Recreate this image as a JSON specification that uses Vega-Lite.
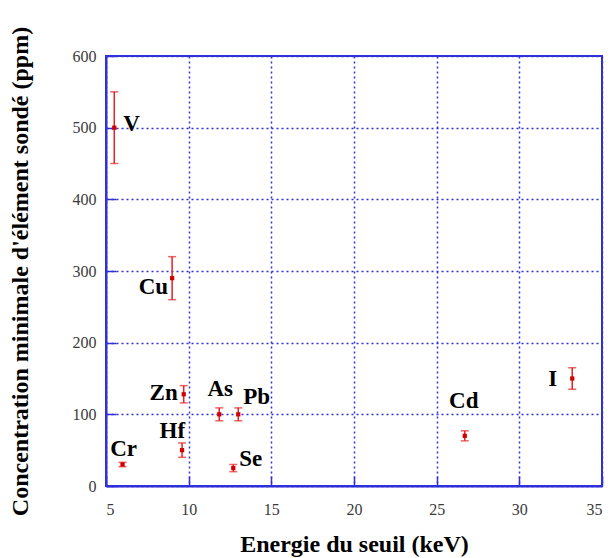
{
  "$schema": "https://vega.github.io/schema/vega-lite/v6.json",
  "width": 496,
  "height": 430,
  "autosize": "none",
  "padding": {"left": 106, "top": 56, "right": 8, "bottom": 72},
  "background": "white",
  "data": {
    "values": [
      {"element": "V", "energie": 5.5, "conc": 500, "lo": 450, "hi": 550},
      {"element": "Cr", "energie": 6.0, "conc": 30, "lo": 27, "hi": 33},
      {"element": "Cu", "energie": 9.0, "conc": 290, "lo": 260, "hi": 320},
      {"element": "Hf", "energie": 9.6, "conc": 50, "lo": 40, "hi": 60},
      {"element": "Zn", "energie": 9.7, "conc": 128, "lo": 116, "hi": 140},
      {"element": "As", "energie": 11.85, "conc": 100, "lo": 91, "hi": 109},
      {"element": "Se", "energie": 12.7, "conc": 25, "lo": 20, "hi": 30},
      {"element": "Pb", "energie": 13.0, "conc": 100, "lo": 91, "hi": 109},
      {"element": "Cd", "energie": 26.7, "conc": 70, "lo": 63, "hi": 77},
      {"element": "I", "energie": 33.2, "conc": 150, "lo": 135, "hi": 165}
    ]
  },
  "config": {
    "view": {"stroke": "#3030d8", "strokeWidth": 2},
    "axis": {
      "domainColor": "#3030d8",
      "domainWidth": 2,
      "tickColor": "#3030d8",
      "tickWidth": 1.5,
      "tickSize": -10,
      "gridColor": "#3030d8",
      "gridDash": [2, 3],
      "gridWidth": 1.5,
      "gridOpacity": 1,
      "labelFont": "Liberation Serif",
      "labelFontSize": 16,
      "labelColor": "#3a3a3a",
      "titleFont": "Liberation Serif",
      "titleFontWeight": "bold",
      "titleFontSize": 24,
      "titleColor": "black"
    },
    "text": {"font": "Liberation Serif", "fontWeight": "bold", "fontSize": 23, "color": "black", "baseline": "alphabetic"}
  },
  "encoding": {
    "x": {
      "field": "energie",
      "type": "quantitative",
      "scale": {"domain": [5, 35], "nice": false, "zero": false},
      "axis": {"values": [5, 10, 15, 20, 25, 30, 35], "labelFont": "Liberation Serif", "labelPadding": 25, "title": "Energie du seuil (keV)", "titlePadding": 15}
    },
    "y": {
      "field": "conc",
      "type": "quantitative",
      "scale": {"domain": [0, 600], "nice": false},
      "axis": {"values": [0, 100, 200, 300, 400, 500, 600], "labelFont": "Liberation Serif", "labelPadding": 20, "title": "Concentration minimale d'élément sondé (ppm)", "titlePadding": 40}
    }
  },
  "layer": [
    {
      "mark": {"type": "rule", "color": "#e42222", "strokeWidth": 1.5},
      "encoding": {"y": {"field": "lo", "type": "quantitative"}, "y2": {"field": "hi"}}
    },
    {
      "mark": {"type": "tick", "orient": "horizontal", "color": "#e42222", "size": 8, "thickness": 1.5},
      "encoding": {"y": {"field": "lo", "type": "quantitative"}}
    },
    {
      "mark": {"type": "tick", "orient": "horizontal", "color": "#e42222", "size": 8, "thickness": 1.5},
      "encoding": {"y": {"field": "hi", "type": "quantitative"}}
    },
    {
      "mark": {"type": "square", "color": "#d00000", "size": 18, "filled": true, "opacity": 1}
    },
    {"transform": [{"filter": "datum.element == 'V'"}], "mark": {"type": "text", "align": "left", "dx": 9, "dy": 3}, "encoding": {"text": {"field": "element"}}},
    {"transform": [{"filter": "datum.element == 'Cu'"}], "mark": {"type": "text", "align": "right", "dx": -4, "dy": 16}, "encoding": {"text": {"field": "element"}}},
    {"transform": [{"filter": "datum.element == 'Zn'"}], "mark": {"type": "text", "align": "right", "dx": -6, "dy": 6}, "encoding": {"text": {"field": "element"}}},
    {"transform": [{"filter": "datum.element == 'As'"}], "mark": {"type": "text", "align": "center", "dx": 1, "dy": -18}, "encoding": {"text": {"field": "element"}}},
    {"transform": [{"filter": "datum.element == 'Pb'"}], "mark": {"type": "text", "align": "left", "dx": 5, "dy": -10}, "encoding": {"text": {"field": "element"}}},
    {"transform": [{"filter": "datum.element == 'Hf'"}], "mark": {"type": "text", "align": "right", "dx": 3, "dy": -12}, "encoding": {"text": {"field": "element"}}},
    {"transform": [{"filter": "datum.element == 'Cr'"}], "mark": {"type": "text", "align": "center", "dx": 1, "dy": -9}, "encoding": {"text": {"field": "element"}}},
    {"transform": [{"filter": "datum.element == 'Se'"}], "mark": {"type": "text", "align": "left", "dx": 6, "dy": -2}, "encoding": {"text": {"field": "element"}}},
    {"transform": [{"filter": "datum.element == 'Cd'"}], "mark": {"type": "text", "align": "center", "dx": -1, "dy": -28}, "encoding": {"text": {"field": "element"}}},
    {"transform": [{"filter": "datum.element == 'I'"}], "mark": {"type": "text", "align": "right", "dx": -15, "dy": 7}, "encoding": {"text": {"field": "element"}}}
  ]
}
